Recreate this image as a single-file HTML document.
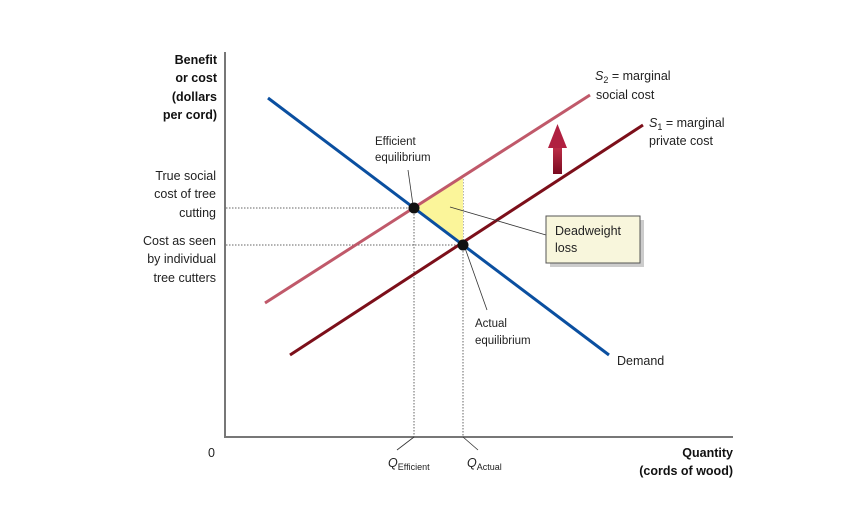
<!DOCTYPE html>
<html><head><style>
body{margin:0;background:#fff;}
svg{display:block;font-family:"Liberation Sans",sans-serif;}
</style></head><body>
<svg width="850" height="520" viewBox="0 0 850 520">
<defs>
<linearGradient id="ag" x1="0" y1="0" x2="0" y2="1"><stop offset="0" stop-color="#c0304a"/><stop offset="1" stop-color="#7a0a20"/></linearGradient>
</defs>
<!-- axes -->
<line x1="225" y1="52" x2="225" y2="438" stroke="#777" stroke-width="2"/>
<line x1="224" y1="437" x2="733" y2="437" stroke="#777" stroke-width="2"/>
<!-- dotted guides -->
<g stroke="#666" stroke-width="1" stroke-dasharray="1.5,1.5">
<line x1="226" y1="208" x2="414" y2="208"/>
<line x1="226" y1="245" x2="463" y2="245"/>
<line x1="414" y1="208" x2="414" y2="437"/>
<line x1="463" y1="176" x2="463" y2="437"/>
</g>
<!-- triangle -->
<polygon points="414,208 463,176 463,245" fill="#fbf59a"/>
<!-- curves -->
<line x1="265" y1="303" x2="590" y2="95" stroke="#c0596a" stroke-width="3"/>
<line x1="290" y1="355" x2="643" y2="125" stroke="#7c0f1a" stroke-width="3"/>
<line x1="268" y1="98" x2="609" y2="355" stroke="#0a4fa0" stroke-width="3"/>
<!-- arrow -->
<rect x="553" y="146" width="9" height="28" fill="url(#ag)"/>
<polygon points="548,148 557.5,124 567,148" fill="#b02040"/>
<!-- leader lines -->
<g stroke="#333" stroke-width="0.8" fill="none">
<line x1="408" y1="170" x2="413" y2="205"/>
<line x1="450" y1="207" x2="546" y2="235"/>
<line x1="465" y1="248" x2="487" y2="310"/>
<polyline points="397,450 414,437"/>
<polyline points="478,450 463,437"/>
</g>
<!-- points -->
<circle cx="414" cy="208" r="5.5" fill="#111"/>
<circle cx="463" cy="245" r="5.5" fill="#111"/>
<!-- box -->
<rect x="550" y="220" width="94" height="47" fill="#ccc"/>
<rect x="546" y="216" width="94" height="47" fill="#f8f6dc" stroke="#555" stroke-width="1"/>
<g font-size="12.5" fill="#222">
<text x="555" y="235">Deadweight</text>
<text x="555" y="252">loss</text>
<text x="595" y="80"><tspan font-style="italic">S</tspan><tspan font-size="9" dy="3">2</tspan><tspan dy="-3"> = marginal</tspan></text>
<text x="596" y="99">social cost</text>
<text x="649" y="127"><tspan font-style="italic">S</tspan><tspan font-size="9" dy="3">1</tspan><tspan dy="-3"> = marginal</tspan></text>
<text x="649" y="145">private cost</text>
<text x="617" y="365">Demand</text>
</g>
<g font-size="11.5" fill="#222">
<text x="375" y="145">Efficient</text>
<text x="375" y="161">equilibrium</text>
<text x="475" y="327">Actual</text>
<text x="475" y="344">equilibrium</text>
</g>
<g font-size="12.5" fill="#222" text-anchor="end">
<text x="216" y="180">True social</text>
<text x="216" y="198">cost of tree</text>
<text x="216" y="217">cutting</text>
<text x="216" y="245">Cost as seen</text>
<text x="216" y="263">by individual</text>
<text x="216" y="282">tree cutters</text>
</g>
<g font-size="12.5" font-weight="bold" fill="#111" text-anchor="end">
<text x="217" y="64">Benefit</text>
<text x="217" y="82">or cost</text>
<text x="217" y="101">(dollars</text>
<text x="217" y="119">per cord)</text>
<text x="733" y="457">Quantity</text>
<text x="733" y="475">(cords of wood)</text>
</g>
<text x="208" y="457" font-size="12.5" fill="#222">0</text>
<text x="388" y="467" font-size="12.5" fill="#222"><tspan font-style="italic">Q</tspan><tspan font-size="9" dy="3">Efficient</tspan></text>
<text x="467" y="467" font-size="12.5" fill="#222"><tspan font-style="italic">Q</tspan><tspan font-size="9" dy="3">Actual</tspan></text>
</svg>
</body></html>
